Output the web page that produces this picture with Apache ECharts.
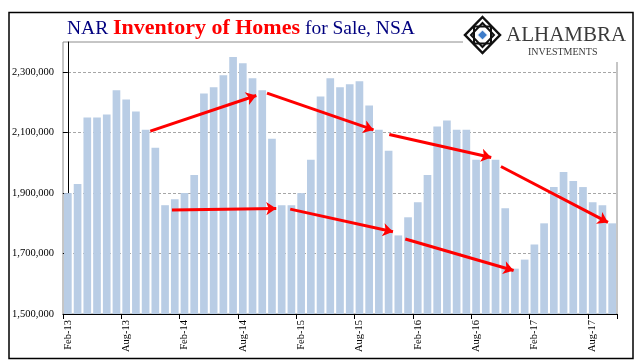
<!DOCTYPE html>
<html>
<head>
<meta charset="utf-8">
<script src="https://cdn.jsdelivr.net/npm/echarts@6/dist/echarts.min.js"></script>
<style>
html,body{margin:0;padding:0;background:#fff;}
#chart{width:641px;height:364px;}
</style>
</head>
<body>
<div id="chart"></div>
<script>
// ---- data ----
const monthNames = ['Jan','Feb','Mar','Apr','May','Jun','Jul','Aug','Sep','Oct','Nov','Dec'];
const categories = [];
for (let i = 0; i < 57; i++) {
  const m = (1 + i) % 12;
  const y = 13 + Math.floor((1 + i) / 12);
  categories.push(monthNames[m] + '-' + y);
}
const inventory = [
  1900000,1930000,2150000,2150000,2160000,2240000,2210000,2170000,2110000,2050000,1860000,1880000,
  1900000,1960000,2230000,2250000,2290000,2350000,2330000,2280000,2240000,2080000,1860000,1860000,
  1900000,2010000,2220000,2280000,2250000,2260000,2270000,2190000,2110000,2040000,1760000,1820000,
  1870000,1960000,2120000,2140000,2110000,2110000,2010000,2020000,2010000,1850000,1650000,1680000,
  1730000,1800000,1920000,1970000,1940000,1920000,1870000,1860000,1800000
];
// arrows in data units: [month index, value]
const arrowStarts = [[8.48,2105000],[10.71,1844000],[20.49,2231000],[22.88,1847000],[33.07,2094000],[34.72,1748000],[44.56,1988000]];
const arrowEnds   = [[19.39,2223000],[21.44,1849000],[31.45,2109000],[33.45,1772000],[43.56,2018000],[45.86,1644000],[55.57,1803000]];
const yTicks = { min: 1500000, max: 2400000, interval: 200000 };

function fmt(v){ return String(v).replace(/\B(?=(\d{3})+(?!\d))/g, ','); }

const chart = echarts.init(document.getElementById('chart'), null, {renderer:'canvas'});
const serif = 'Liberation Serif';

const cx = 482.5, cy = 35;
function diamond(h, v){ return [[cx, cy - v],[cx + h, cy],[cx, cy + v],[cx - h, cy]]; }

chart.setOption({
  animation: false,
  backgroundColor: '#fff',
  title: {
    left: 67, top: 17, padding: 0,
    text: '{a|NAR }{b|Inventory of Homes}{a| for Sale, NSA}',
    textStyle: {
      fontWeight: 'normal',
      rich: {
        a: { fontFamily: serif, fontSize: 19.5, fontWeight: 'normal', color: '#00007f', lineHeight: 22, verticalAlign: 'bottom' },
        b: { fontFamily: serif, fontSize: 22, fontWeight: 'bold', color: '#ff0000', lineHeight: 22, verticalAlign: 'bottom' }
      }
    }
  },
  grid: { left: 63, right: 24, top: 42, bottom: 50, show: true, borderColor: '#8c8c8c', borderWidth: 1, backgroundColor: 'transparent' },
  xAxis: [{
    type: 'category',
    data: categories,
    boundaryGap: true,
    axisLine: { lineStyle: { color: '#000', width: 1 } },
    axisTick: { show: true, interval: 5, length: 5, lineStyle: { color: '#000' } },
    axisLabel: { interval: 5, rotate: 90, margin: 6, fontFamily: serif, fontSize: 10.5, color: '#000' },
    splitLine: { show: false }
  }, {
    type: 'value', min: -0.5, max: 56.5, show: false, gridIndex: 0
  }],
  yAxis: {
    type: 'value',
    min: yTicks.min, max: yTicks.max, interval: yTicks.interval,
    axisLine: { show: true, lineStyle: { color: '#000', width: 1 } },
    axisTick: { show: true, length: 5, lineStyle: { color: '#000' } },
    axisLabel: { showMaxLabel: false, margin: 9, fontFamily: serif, fontSize: 10.5, color: '#000', formatter: fmt },
    splitLine: { show: true, showMinLine: false, showMaxLine: false, lineStyle: { color: '#a6a6a6', type: [3, 2], width: 1 } }
  },
  series: [{
    type: 'bar',
    data: inventory,
    barCategoryGap: '21%',
    itemStyle: { color: '#b9cde5' }
  }, {
    type: 'lines',
    coordinateSystem: 'cartesian2d',
    xAxisIndex: 1, yAxisIndex: 0,
    symbol: ['none', 'arrow'],
    symbolSize: [8, 10],
    lineStyle: { color: '#ff0000', width: 3, opacity: 1 },
    z: 5,
    data: arrowStarts.map((s, i) => ({ coords: [s, arrowEnds[i]] }))
  }],
  graphic: [
    { type: 'rect', shape: { x: 463, y: 14, width: 168, height: 48 }, style: { fill: '#fff' }, z: 50, silent: true },
    { type: 'polygon', shape: { points: diamond(17.5, 18) }, style: { fill: '#fff', stroke: '#111', lineWidth: 2.5 }, z: 51 },
    { type: 'polygon', shape: { points: diamond(11.5, 12) }, style: { fill: 'none', stroke: '#111', lineWidth: 2 }, z: 52 },
    { type: 'rect', shape: { x: cx - 8.5, y: cy - 8.5, width: 17, height: 17 }, style: { fill: 'none', stroke: '#111', lineWidth: 2 }, z: 52 },
    { type: 'polygon', shape: { points: diamond(5, 5) }, style: { fill: '#3d7cc9', stroke: '#fff', lineWidth: 1 }, z: 53 },
    { type: 'text', left: 506, top: 25, style: { text: 'ALHAMBRA', font: '21px "Liberation Serif"', fill: '#3a3a3a' }, z: 53 },
    { type: 'text', left: 528, top: 47, style: { text: 'INVESTMENTS', font: '10px "Liberation Serif"', fill: '#3a3a3a' }, z: 53 },
    { type: 'rect', shape: { x: 9, y: 12.5, width: 624, height: 346 }, style: { fill: 'none', stroke: '#000', lineWidth: 1.5 }, z: 60, silent: true }
  ]
});
</script>
</body>
</html>
